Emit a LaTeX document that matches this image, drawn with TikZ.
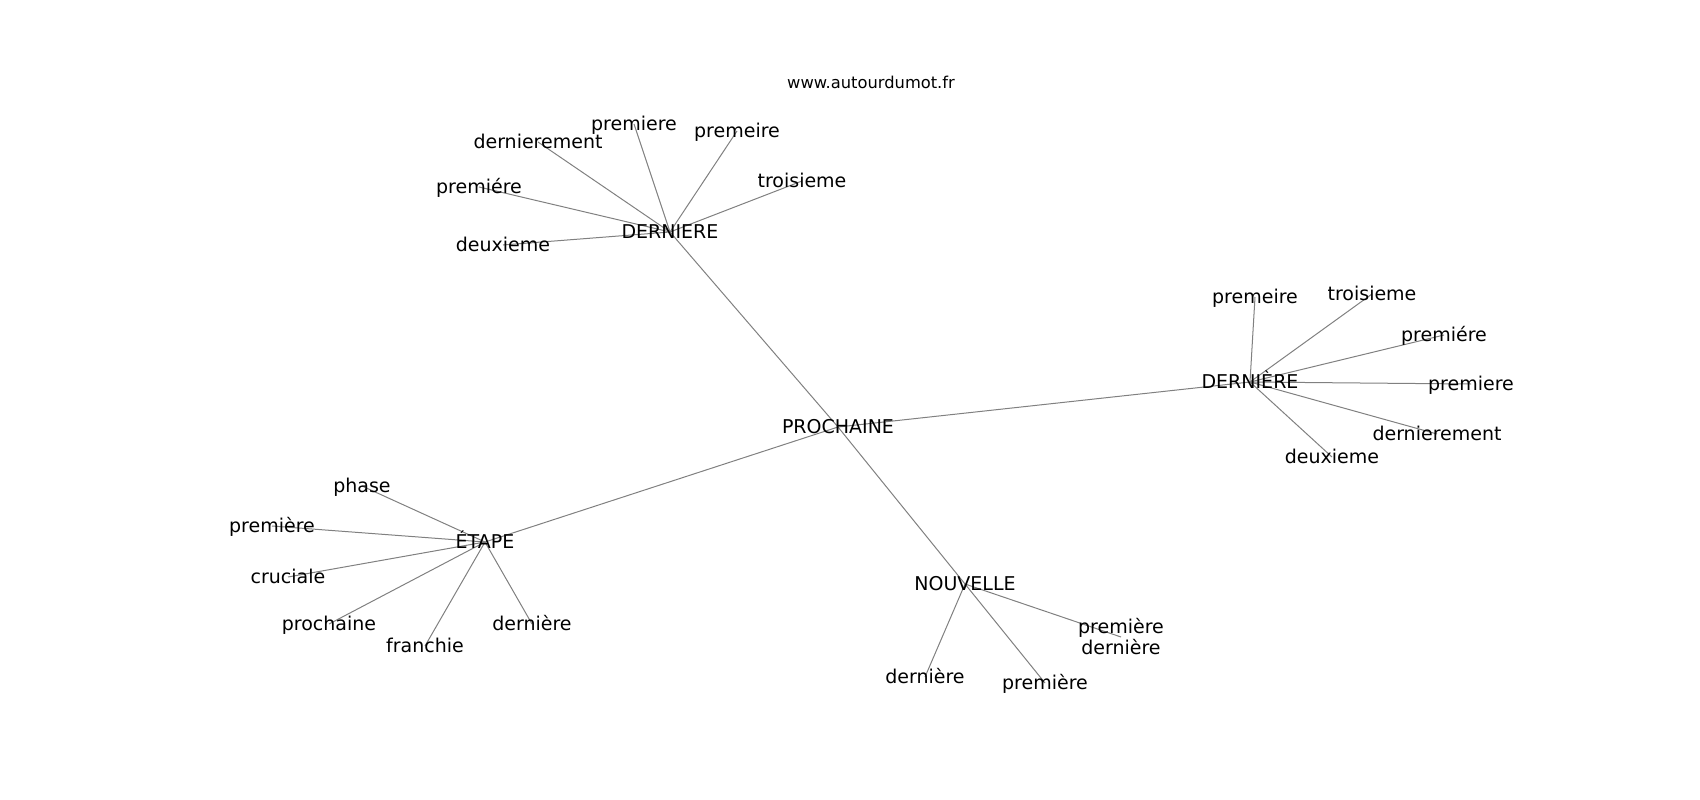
\documentclass[tikz,border=0pt]{standalone}
\usepackage{fontspec}
\setmainfont{DejaVu Sans}
\usetikzlibrary{backgrounds}
\begin{document}
\begin{tikzpicture}[x=1pt,y=-1pt,
  lbl/.style={inner sep=0pt,anchor=center,text height=13.8pt,text depth=0pt,font=\fontsize{19}{22}\selectfont,text=black},
  edge/.style={draw=gray,line width=1pt}]
\useasboundingbox (0,0) rectangle (1700,800);
\node[inner sep=0pt,anchor=center,text height=11.9pt,text depth=0pt,font=\fontsize{16.3}{19}\selectfont] (title) at (871,83) {www.autourdumot.fr};
% hubs
\node[lbl] (P) at (838,427) {PROCHAINE};
\node[lbl] (D1) at (670,232) {DERNIERE};
\node[lbl] (D2) at (1250,382) {DERNIÈRE};
\node[lbl] (E) at (485,542) {ÉTAPE};
\node[lbl] (N) at (965,584) {NOUVELLE};
% DERNIERE children
\node[lbl] (d1a) at (634,124) {premiere};
\node[lbl] (d1b) at (737,131) {premeire};
\node[lbl] (d1c) at (538,142) {dernierement};
\node[lbl] (d1d) at (802,181) {troisieme};
\node[lbl] (d1e) at (479,187) {premiére};
\node[lbl] (d1f) at (503,245) {deuxieme};
% DERNIÈRE children
\node[lbl] (d2a) at (1255,297) {premeire};
\node[lbl] (d2b) at (1372,294) {troisieme};
\node[lbl] (d2c) at (1444,335) {premiére};
\node[lbl] (d2d) at (1471,384) {premiere};
\node[lbl] (d2e) at (1437,434) {dernierement};
\node[lbl] (d2f) at (1332,457) {deuxieme};
% ÉTAPE children
\node[lbl] (ea) at (362,486) {phase};
\node[lbl] (eb) at (272,526) {première};
\node[lbl] (ec) at (288,577) {cruciale};
\node[lbl] (ed) at (329,624) {prochaine};
\node[lbl] (ee) at (425,646) {franchie};
\node[lbl] (ef) at (532,624) {dernière};
% NOUVELLE children
\node[inner sep=0pt,anchor=center,align=center,font=\fontsize{19}{21}\selectfont] (na) at (1121,637) {première\\dernière};
\node[lbl] (nc) at (925,677) {dernière};
\node[lbl] (nd) at (1045,683) {première};
\begin{scope}[on background layer]
\foreach \a/\b in {P/D1,P/D2,P/E,P/N,
  D1/d1a,D1/d1b,D1/d1c,D1/d1d,D1/d1e,D1/d1f,
  D2/d2a,D2/d2b,D2/d2c,D2/d2d,D2/d2e,D2/d2f,
  E/ea,E/eb,E/ec,E/ed,E/ee,E/ef,
  N/na,N/nc,N/nd}
  \draw[edge] (\a.center) -- (\b.center);
\end{scope}
\end{tikzpicture}
\end{document}
